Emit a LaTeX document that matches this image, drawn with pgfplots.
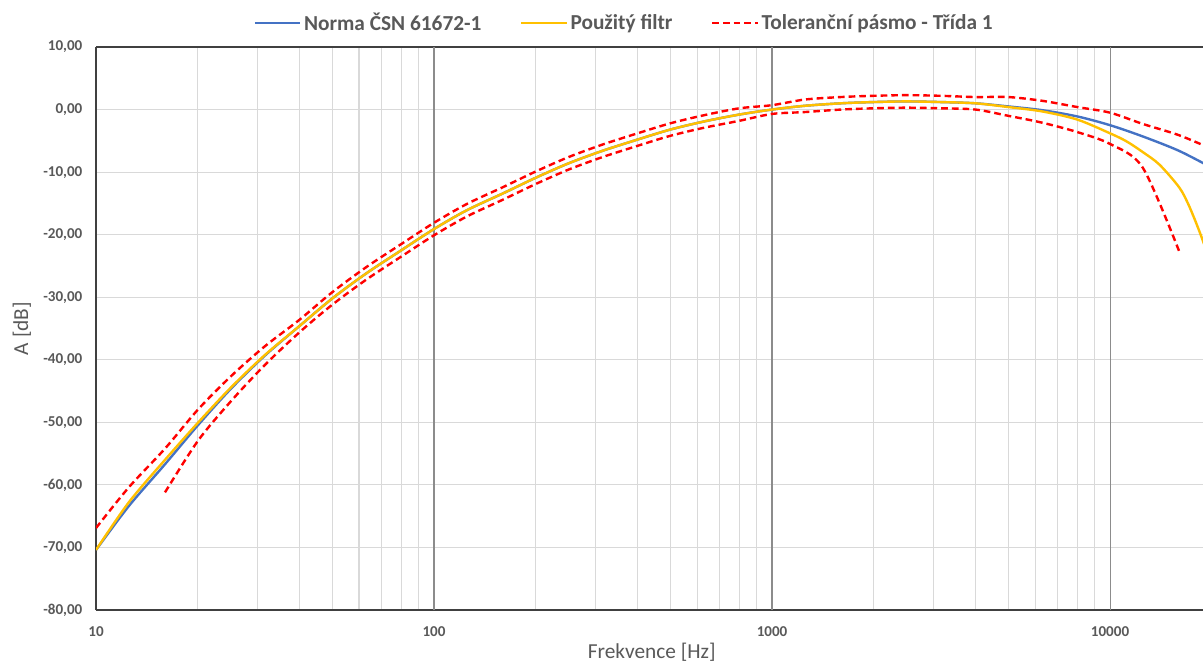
\documentclass[border=0pt]{standalone}
\usepackage{fontspec}
\setmainfont{Carlito}
\usepackage{pgfplots}
\pgfplotsset{compat=1.18}
\definecolor{normblue}{HTML}{4472C4}
\definecolor{filtyellow}{HTML}{FFC000}
\definecolor{tolred}{HTML}{FF0000}
\definecolor{txtgray}{HTML}{595959}
\definecolor{gridlt}{HTML}{D9D9D9}
\definecolor{griddk}{HTML}{8C8C8C}
\definecolor{axisdk}{HTML}{404040}

\begin{document}
\begin{tikzpicture}
\begin{axis}[
    scale only axis,
    width=830.25pt, height=422.25pt,
    xmode=log,
    xmin=10, xmax=18842,
    ymin=-80, ymax=10,
    ytick={-80,-70,...,10},
    xtick={10,100,1000,10000},
    xticklabels={10,100,1000,10000},
    minor xtick={20,30,40,50,60,70,80,90,200,300,400,500,600,700,800,900,
                 2000,3000,4000,5000,6000,7000,8000,9000},
    extra x ticks={100,1000,10000},
    extra x tick labels={},
    extra x tick style={grid=major, major grid style={draw=griddk, line width=0.8pt}},
    xminorgrids=true, xmajorgrids=true, ymajorgrids=true,
    major grid style={draw=gridlt, line width=0.8pt},
    minor grid style={draw=gridlt, line width=0.8pt},
    major tick length=0pt, minor tick length=0pt,
    axis x line=box, axis y line=left,
    axis line style={-, draw=axisdk, line width=0.9pt},
    /pgf/number format/assume math mode=true,
    yticklabel={\pgfmathprintnumber[fixed, fixed zerofill, precision=2, use comma]{\tick}},
    tick label style={font=\bfseries\fontsize{11.3}{13}\selectfont, text=txtgray},
    xticklabel shift=9pt,
    yticklabel shift=6.7pt,
    xlabel={Frekvence [Hz]},
    ylabel={A [dB]},
    label style={font=\fontsize{16}{19}\selectfont, text=txtgray},
    xlabel style={at={(axis description cs:0.502,-0.0745)}, anchor=center},
    ylabel style={at={(axis description cs:-0.0669,0.5)}, anchor=center},
    legend columns=3,
    legend style={at={(axis description cs:0.4774,1.0426)}, anchor=center,
        draw=none, fill=none, inner sep=0pt,
        font=\bfseries\fontsize{16}{19}\selectfont, text=txtgray,
        /tikz/every even column/.append style={column sep=27pt}},
    legend image code/.code={\draw[#1] (0pt,0pt) -- (34pt,0pt);},
    every axis plot/.append style={line width=1.8pt, smooth},
]
% norma CSN 61672-1 (A-weighting)
\addplot[normblue] coordinates {
 (10,-70.4) (12.5,-63.4) (16,-56.7) (20,-50.5) (25,-44.7) (31.5,-39.4)
 (40,-34.6) (50,-30.2) (63,-26.2) (80,-22.5) (100,-19.1) (125,-16.1)
 (160,-13.4) (200,-10.9) (250,-8.6) (315,-6.6) (400,-4.8) (500,-3.2)
 (630,-1.9) (800,-0.8) (1000,0) (1250,0.6) (1600,1.0) (2000,1.2)
 (2500,1.3) (3150,1.2) (4000,1.0) (5000,0.5) (6300,-0.1) (8000,-1.1)
 (10000,-2.5) (12500,-4.3) (16000,-6.6) (20000,-9.3)
};
\addlegendentry{Norma ČSN 61672-1}
% pouzity filtr
\addplot[filtyellow] coordinates {
 (10,-70.4) (12.5,-62.8) (16,-56.0) (20,-50.1) (25,-44.5) (31.5,-39.3)
 (40,-34.6) (50,-30.2) (63,-26.2) (80,-22.5) (100,-19.1) (125,-16.1)
 (160,-13.4) (200,-10.9) (250,-8.6) (315,-6.6) (400,-4.8) (500,-3.2)
 (630,-1.9) (800,-0.8) (1000,0) (1250,0.6) (1600,1.0) (2000,1.2)
 (2500,1.3) (3150,1.2) (4000,1.0) (5000,0.4) (6300,-0.3) (8000,-1.6)
 (10000,-3.8) (11200,-5.1) (12500,-6.8) (14000,-8.8) (16000,-12.4)
 (17000,-15.0) (18000,-18.2) (19000,-21.6) (20000,-25.5)
};
\addlegendentry{Použitý filtr}
% tolerancni pasmo - horni mez
\addplot[tolred, dash pattern=on 5pt off 3pt] coordinates {
 (10,-66.9) (12.5,-60.4) (16,-54.2) (20,-48.0) (25,-42.7) (31.5,-37.9)
 (40,-33.6) (50,-29.2) (63,-25.2) (80,-21.5) (100,-18.1) (125,-15.1)
 (160,-12.4) (200,-9.9) (250,-7.6) (315,-5.6) (400,-3.8) (500,-2.2)
 (630,-0.9) (800,0.2) (1000,0.7) (1250,1.6) (1600,2.0) (2000,2.2)
 (2500,2.3) (3150,2.2) (4000,2.0) (5000,2.0) (6300,1.4) (8000,0.4)
 (10000,-0.5) (12500,-2.3) (16000,-4.1) (20000,-6.3)
};
\addlegendentry{Toleranční pásmo - Třída 1}
% tolerancni pasmo - dolni mez
\addplot[tolred, dash pattern=on 5pt off 3pt, forget plot] coordinates {
 (16,-61.2) (20,-53.0) (25,-46.7) (31.5,-40.9) (40,-35.6) (50,-31.2)
 (63,-27.2) (80,-23.5) (100,-20.1) (125,-17.1) (160,-14.4) (200,-11.9)
 (250,-9.6) (315,-7.6) (400,-5.8) (500,-4.2) (630,-2.9) (800,-1.8)
 (1000,-0.7) (1250,-0.4) (1600,0.0) (2000,0.2) (2500,0.3) (3150,0.2)
 (4000,0.0) (5000,-1.0) (6300,-2.1) (8000,-3.6) (10000,-5.5)
 (12500,-9.3) (16000,-22.6)
};
\end{axis}
\pgfresetboundingbox
\path ([xshift=-72pt,yshift=-40.5pt]current axis.south west) rectangle ([yshift=35.25pt]current axis.north east);
\end{tikzpicture}
\end{document}
